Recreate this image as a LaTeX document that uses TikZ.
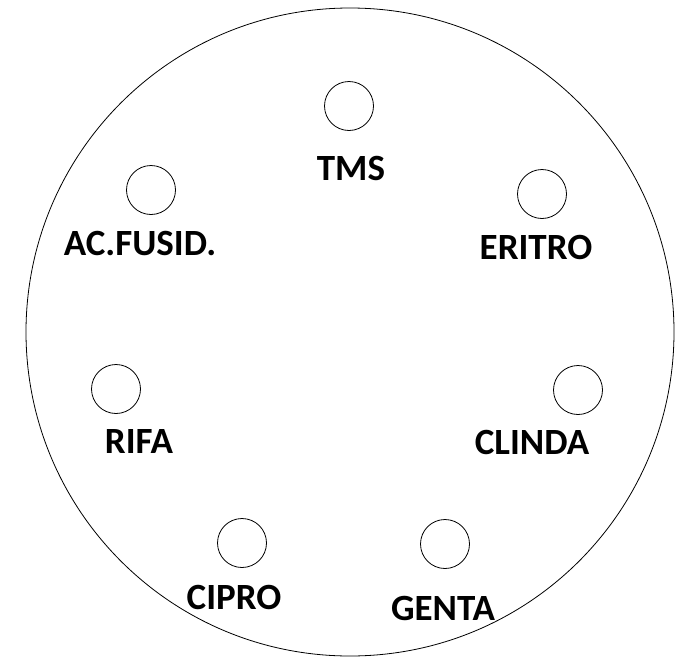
\documentclass[tikz,border=0pt]{standalone}
\usepackage{fontspec}
\setmainfont{Carlito}
\usepackage{tikz}

\begin{document}
\begin{tikzpicture}[x=1pt,y=-1pt,
	disc/.style={circle, draw, line width=0.8pt, minimum size=49pt, inner sep=0pt},
	lbl/.style={font=\fontsize{37}{37}\selectfont\bfseries, inner sep=0pt}]

	\useasboundingbox (0,0) rectangle (689,659);

	\node (dish) [circle, draw, line width=0.8pt, minimum size=648pt, inner sep=0pt] at (350, 332) {};

	\node (d0) [disc] at (349, 106) {};
	\node (d1) [disc] at (542, 194) {};
	\node (d2) [disc] at (151, 190) {};
	\node (d3) [disc] at (578, 390) {};
	\node (d4) [disc] at (116, 389) {};
	\node (d5) [disc] at (242, 543) {};
	\node (d6) [disc] at (445, 544) {};

	\node (l0) [lbl] at (351, 168) {TMS};
	\node (l1) [lbl] at (536, 247) {ERITRO};
	\node (l2) [lbl] at (140, 243) {AC.FUSID.};
	\node (l3) [lbl] at (532, 442) {CLINDA};
	\node (l4) [lbl] at (139, 441) {RIFA};
	\node (l5) [lbl] at (234, 597) {CIPRO};
	\node (l6) [lbl] at (443, 608) {GENTA};

\end{tikzpicture}
\end{document}
